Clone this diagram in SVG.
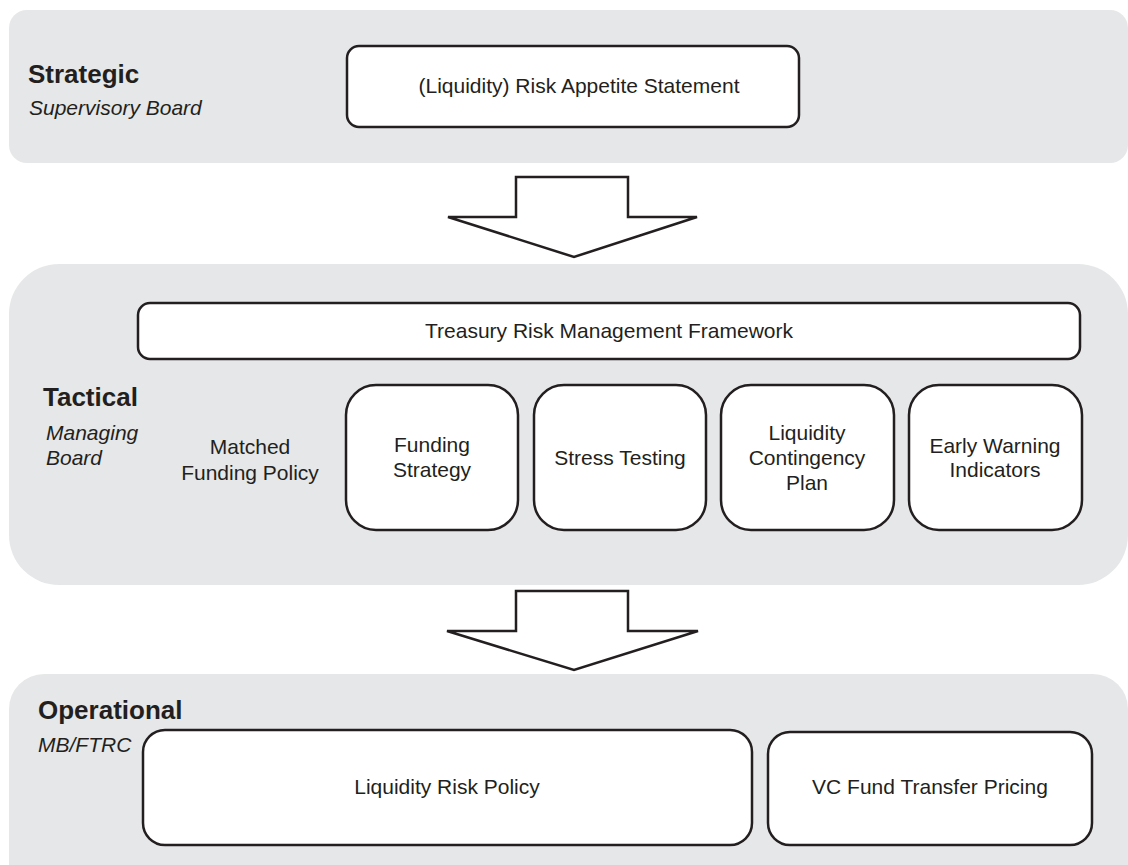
<svg xmlns="http://www.w3.org/2000/svg" width="1128" height="865" viewBox="0 0 1128 865">
<style>
.band{fill:#e6e7e8;stroke:none}
.box{fill:#fff;stroke:#231f20;stroke-width:2.5}
.arrow{fill:#fff;stroke:#231f20;stroke-width:2.5;stroke-linejoin:miter}
text{font-family:"Liberation Sans",Arial,sans-serif;fill:#231f20}
.lbl{font-size:21px;text-anchor:middle}
.h{font-size:26px;font-weight:bold}
.sub{font-size:21px;font-style:italic}
</style>
<rect width="1128" height="865" fill="#fff"/>
<g id="band-strategic">
<rect class="band" x="9" y="10" width="1119" height="153" rx="18"/>
<text class="h" x="28" y="83">Strategic</text>
<text class="sub" x="29" y="115">Supervisory Board</text>
</g>
<g id="band-tactical">
<rect class="band" x="9" y="264" width="1119" height="321" rx="50"/>
<text class="h" x="43" y="406">Tactical</text>
<text class="sub" x="46" y="440">Managing</text>
<text class="sub" x="46" y="465">Board</text>
</g>
<g id="band-operational">
<rect class="band" x="9" y="674" width="1119" height="230" rx="35"/>
<text class="h" x="38" y="719">Operational</text>
<text class="sub" x="38" y="752">MB/FTRC</text>
</g>
<g id="node-ras">
<rect class="box" x="347" y="46" width="452" height="81" rx="12"/>
<text class="lbl" x="579" y="93">(Liquidity) Risk Appetite Statement</text>
</g>
<g id="node-trmf">
<rect class="box" x="138" y="303" width="942" height="56" rx="12"/>
<text class="lbl" x="609" y="338">Treasury Risk Management Framework</text>
</g>
<g id="node-mfp">
<text class="lbl" x="250" y="454">Matched</text>
<text class="lbl" x="250" y="480">Funding Policy</text>
</g>
<g id="node-fs">
<rect class="box" x="346" y="385" width="172" height="145" rx="30"/>
<text class="lbl" x="432" y="452">Funding</text>
<text class="lbl" x="432" y="477">Strategy</text>
</g>
<g id="node-st">
<rect class="box" x="534" y="385" width="172" height="145" rx="30"/>
<text class="lbl" x="620" y="465">Stress Testing</text>
</g>
<g id="node-lcp">
<rect class="box" x="721" y="385" width="173" height="145" rx="30"/>
<text class="lbl" x="807" y="440">Liquidity</text>
<text class="lbl" x="807" y="465">Contingency</text>
<text class="lbl" x="807" y="490">Plan</text>
</g>
<g id="node-ewi">
<rect class="box" x="909" y="385" width="173" height="145" rx="30"/>
<text class="lbl" x="995" y="453">Early Warning</text>
<text class="lbl" x="995" y="477">Indicators</text>
</g>
<g id="node-lrp">
<rect class="box" x="143" y="730" width="609" height="115" rx="22"/>
<text class="lbl" x="447" y="794">Liquidity Risk Policy</text>
</g>
<g id="node-vcftp">
<rect class="box" x="768" y="732" width="324" height="113" rx="22"/>
<text class="lbl" x="930" y="794">VC Fund Transfer Pricing</text>
</g>
<g id="connectors">
<path class="arrow" d="M516,177 L628,177 L628,217 L697,217 L574,257 L448,217 L516,217 Z"/>
<path class="arrow" d="M516,591 L628,591 L628,631 L698,631 L574,670 L447,631 L516,631 Z"/>
</g>
</svg>
